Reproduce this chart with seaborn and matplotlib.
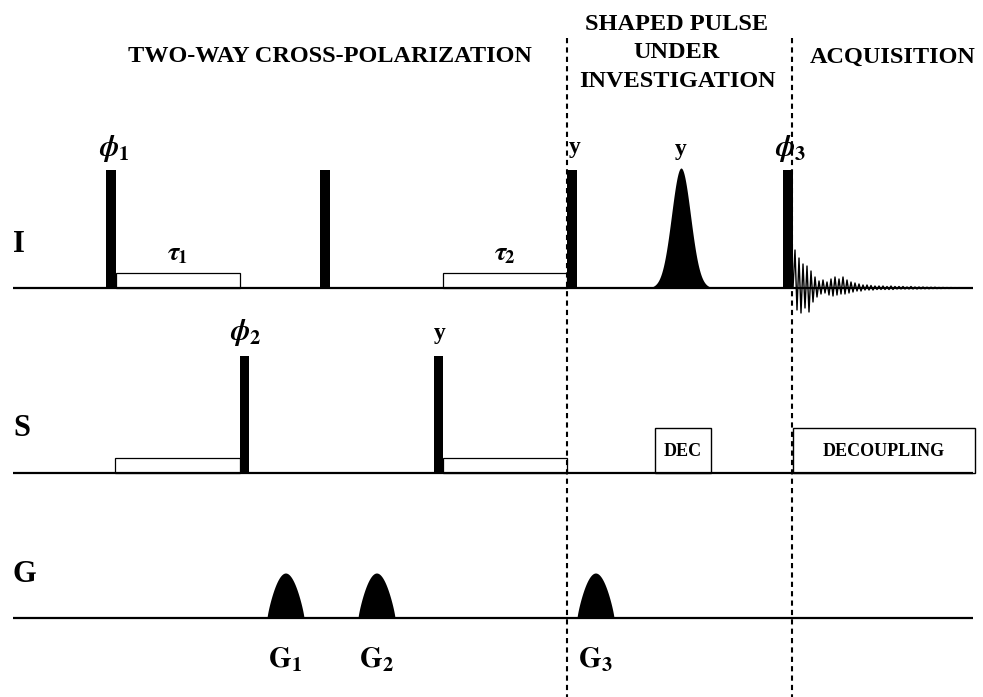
import numpy as np
import matplotlib.pyplot as plt
import seaborn as sns

sns.set_theme(style="white")
plt.rcParams['font.family'] = ['Liberation Serif', 'DejaVu Serif']
plt.rcParams['font.weight'] = 'bold'
plt.rcParams['mathtext.fontset'] = 'stix'
plt.rcParams['text.color'] = 'black'

INK = 'black'

# channels (baseline position on the drawing, top-down)
channels = ["I", "S", "G"]
baseline_y = [288, 473, 618]

# hard (rectangular) pulses: start time, width, height
I_pulse_t = [106, 320, 567, 783]
I_pulse_labels = [r"$\phi_{\mathbf{1}}$", "", "y", r"$\phi_{\mathbf{3}}$"]
S_pulse_t = [240, 434]
S_pulse_labels = [r"$\phi_{\mathbf{2}}$", "y"]
pulse_w = 10
pulse_h = 118

# cross-polarization spin-lock periods (open boxes)
I_cp_start = [116, 443]
I_cp_end = [240, 567]
I_cp_labels = [r"$\tau_1$", r"$\tau_2$"]
S_cp_start = [115, 443]
S_cp_end = [240, 567]
cp_h = 15

# shaped (gaussian) pulse on I
shaped_center = 681
shaped_sigma = 9.5
shaped_h = 120

# decoupling on S
dec_start = [655, 793]
dec_end = [711, 975]
dec_labels = ["DEC", "DECOUPLING"]
dec_h = 45

# gradient pulses
grad_start = [267, 358, 577]
grad_w = 37
grad_h = 45
grad_labels = [r"$\mathbf{G_1}$", r"$\mathbf{G_2}$", r"$\mathbf{G_3}$"]

# FID (start, step, amplitude)
fid_t0 = 793
fid_dt = 2
fid_amp = [0, 38, -22, 30, -25, 24, -20, 22, -24, 17,
           -14, 11, -9, 7, -6, 8, -5, 6, -7, 9,
           -8, 11, -7, 9, -6, 11, -6, 8, -5, 6,
           -4, 5, -3, 4, -3, 3, -2, 3, -2, 2.5,
           -2, 2, -1.5, 2, -1.5, 2, -1.5, 1.5, -1.5, 2,
           -1.5, 1.5, -1, 1.5, -1, 1.5, -1, 1, -1, 1.5,
           -1, 1, -1, 1, -0.8, 1, -0.8, 0.8, -0.8, 0.8,
           -0.6, 0.8, -0.6, 0.6, -0.6, 0.6, -0.5, 0.5, -0.5, 0.5,
           -0.4, 0.4, -0.4, 0.4, -0.3, 0.3, -0.3, 0.3, -0.2, 0]

# period boundaries and headers
period_bounds = [567, 792]
headers = ["TWO-WAY CROSS-POLARIZATION", "SHAPED PULSE\nUNDER\nINVESTIGATION", "ACQUISITION"]
header_x = [330, 677, 893]

fig = plt.figure(figsize=(9.83, 6.97), dpi=100)
ax = fig.add_axes([0, 0, 1, 1])
ax.set_xlim(0, 983)
ax.set_ylim(697, 0)
ax.axis('off')

yI, yS, yG = baseline_y

# baselines + channel names
ax.hlines(baseline_y, 13, 973, color=INK, lw=1.6, zorder=2)
for name, y0 in zip(channels, baseline_y):
    ax.text(13, y0 - 44, name, fontsize=22, ha='left', va='center')

# hard pulses
ax.bar(I_pulse_t, -pulse_h, width=pulse_w, bottom=yI, align='edge', color=INK,
       lw=0, zorder=3)
ax.bar(S_pulse_t, -pulse_h + 1, width=pulse_w - 1, bottom=yS, align='edge', color=INK,
       lw=0, zorder=3)
for t, lab in zip(I_pulse_t, I_pulse_labels):
    if lab:
        ax.text(t + 8, yI - pulse_h - 22, lab, fontsize=21 if 'phi' in lab else 17,
                ha='center', va='center')
for t, lab in zip(S_pulse_t, S_pulse_labels):
    ax.text(t + 6, yS - pulse_h - 22, lab, fontsize=21 if 'phi' in lab else 17,
            ha='center', va='center')

# spin-lock boxes
ax.bar(I_cp_start, -cp_h, width=np.subtract(I_cp_end, I_cp_start), bottom=yI,
       align='edge', fill=False, edgecolor=INK, lw=0.9)
for s, e, lab in zip(I_cp_start, I_cp_end, I_cp_labels):
    ax.text((s + e) / 2, yI - 34, lab, fontsize=19, ha='center', va='center')
ax.bar(S_cp_start, -cp_h, width=np.subtract(S_cp_end, S_cp_start), bottom=yS,
       align='edge', fill=False, edgecolor=INK, lw=0.9)

# gaussian shaped pulse
gx = np.linspace(shaped_center - 4 * shaped_sigma, shaped_center + 4 * shaped_sigma, 200)
gy = shaped_h * np.exp(-0.5 * ((gx - shaped_center) / shaped_sigma) ** 2)
ax.fill_between(gx, yI, yI - gy, color=INK, lw=0, zorder=3)
ax.text(shaped_center, yI - pulse_h - 20, "y", fontsize=17, ha='center', va='center')

# FID
fid_t = fid_t0 + fid_dt * np.arange(len(fid_amp))
sns.lineplot(x=fid_t, y=yI - np.array(fid_amp), ax=ax, color=INK, lw=1.0,
             sort=False, estimator=None, zorder=3)

# decoupling boxes
ax.bar(dec_start, -dec_h, width=np.subtract(dec_end, dec_start), bottom=yS,
       align='edge', fill=False, edgecolor=INK, lw=1.0)
for s, e, lab in zip(dec_start, dec_end, dec_labels):
    ax.text((s + e) / 2, yS - 22, lab, fontsize=13, ha='center', va='center')

# gradients
for t, lab in zip(grad_start, grad_labels):
    xx = np.linspace(t, t + grad_w, 100)
    yy = grad_h * np.sin(np.pi * (xx - t) / grad_w) ** 0.8
    ax.fill_between(xx, yG, yG - yy, color=INK, lw=0, zorder=3)
    ax.text(t + grad_w / 2, yG + 42, lab, fontsize=21, ha='center', va='center')

# period separators and headers
ax.vlines(period_bounds, 38, 697, color=INK, lw=1.5, linestyles=(0, (2.5, 2)), zorder=4)
for lab, x in zip(headers, header_x):
    ax.text(x, 57 if '\n' not in lab else 53, lab, fontsize=17.5, ha='center', va='center',
            linespacing=1.45)

fig.savefig("out.png", dpi=100)
